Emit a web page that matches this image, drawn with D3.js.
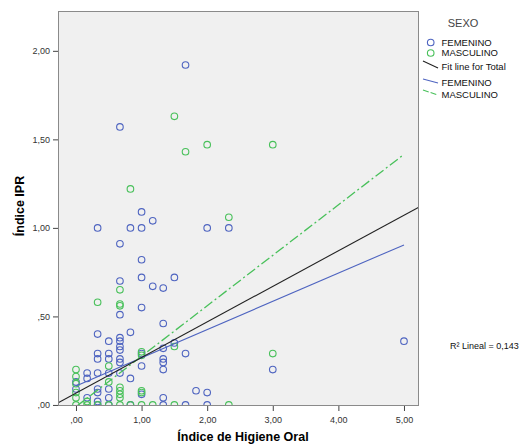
<!DOCTYPE html>
<html>
<head>
<meta charset="utf-8">
<script src="https://cdn.jsdelivr.net/npm/d3@7"></script>
<style>
  body { margin: 0; background: #fff; }
  text { font-family: "Liberation Sans", Arial, sans-serif; }
</style>
</head>
<body>
<div id="chart"></div>
<script>
// values: [Índice de Higiene Oral, Índice IPR]
var femenino = [
  [1.67, 1.92], [0.67, 1.57],
  [1.0, 1.09], [1.17, 1.04], [0.33, 1.0], [0.83, 1.0], [1.0, 1.0], [2.0, 1.0], [2.33, 1.0],
  [0.67, 0.91], [1.0, 0.82], [1.0, 0.72], [1.5, 0.72], [0.67, 0.70], [1.17, 0.67], [1.33, 0.66],
  [1.0, 0.55], [0.67, 0.51], [1.33, 0.46], [0.83, 0.41], [0.33, 0.40], [0.67, 0.38], [0.5, 0.36],
  [0.67, 0.36], [5.0, 0.36], [1.5, 0.35], [0.67, 0.33], [1.33, 0.32], [0.67, 0.31],
  [0.33, 0.29], [0.5, 0.29], [1.0, 0.29], [1.67, 0.29], [0.67, 0.26], [0.33, 0.26], [0.5, 0.26],
  [1.33, 0.26], [0.67, 0.24], [1.33, 0.24], [1.0, 0.22], [1.33, 0.2], [3.0, 0.2],
  [0.17, 0.18], [0.33, 0.18], [0.5, 0.18], [0.67, 0.18], [0.17, 0.15], [0.83, 0.15], [0.0, 0.13],
  [0.33, 0.09], [0.5, 0.09], [0.0, 0.09], [1.83, 0.08], [0.33, 0.07], [2.0, 0.07], [1.0, 0.06],
  [0.5, 0.04], [1.33, 0.04], [0.17, 0.04], [0.33, 0.02],
  [0.33, 0], [0.5, 0], [0.83, 0], [1.33, 0], [1.67, 0], [2.0, 0]
];
var masculino = [
  [1.5, 1.63], [2.0, 1.47], [3.0, 1.47], [1.67, 1.43], [0.83, 1.22], [2.33, 1.06],
  [0.67, 0.65], [0.33, 0.58], [0.67, 0.57], [0.67, 0.56],
  [1.5, 0.33], [1.0, 0.30], [3.0, 0.29], [1.0, 0.28], [0.5, 0.22], [0.0, 0.20], [0.0, 0.16],
  [0.5, 0.13], [0.0, 0.12], [0.67, 0.10], [0.67, 0.08], [1.0, 0.08], [0.0, 0.07], [1.0, 0.07],
  [0.67, 0.06], [0.0, 0.04], [0.67, 0.04], [0.17, 0.02],
  [0.0, 0], [0.17, 0], [0.33, 0], [0.5, 0], [0.67, 0], [0.83, 0], [1.0, 0], [1.17, 0], [1.5, 0], [2.33, 0]
];

// fit lines, endpoints
var totalLine = [[-0.28, 0.01], [5.24, 1.12]];
var femLine = [[0, 0.107], [5, 0.904]];
var mascLine = [[0, -0.01], [5, 1.415]];

var xTicks = [0, 1, 2, 3, 4, 5];
var xTickLabels = [",00", "1,00", "2,00", "3,00", "4,00", "5,00"];
var yTicks = [0, 0.5, 1, 1.5, 2];
var yTickLabels = [",00", ",50", "1,00", "1,50", "2,00"];

var width = 524, height = 445;
var blue = "#4e64c0", green = "#48c05a";

var svg = d3.select("#chart").append("svg")
    .attr("width", width)
    .attr("height", height);

var plotLeft = 58, plotRight = 419, plotTop = 11, plotBottom = 406;

var x = d3.scaleLinear().domain([-0.274, 5.229]).range([plotLeft, plotRight]);
var y = d3.scaleLinear().domain([-0.006, 2.225]).range([plotBottom, plotTop]);

// plot background
svg.append("rect")
    .attr("x", plotLeft).attr("y", plotTop)
    .attr("width", plotRight - plotLeft).attr("height", plotBottom - plotTop)
    .style("fill", "#f0f0f0");

svg.append("clipPath").attr("id", "plotclip")
  .append("rect")
    .attr("x", plotLeft).attr("y", plotTop)
    .attr("width", plotRight - plotLeft).attr("height", plotBottom - plotTop);

// axes
var xAxis = d3.axisBottom(x).tickValues(xTicks)
    .tickFormat(function (d, i) { return xTickLabels[i]; })
    .tickSize(5).tickSizeOuter(0);
var yAxis = d3.axisLeft(y).tickValues(yTicks)
    .tickFormat(function (d, i) { return yTickLabels[i]; })
    .tickSize(5).tickSizeOuter(0);

var gx = svg.append("g").attr("transform", "translate(0," + plotBottom + ")").call(xAxis);
var gy = svg.append("g").attr("transform", "translate(" + plotLeft + ",0)").call(yAxis);
[gx, gy].forEach(function (g) {
    g.select(".domain").remove();
    g.selectAll("line").style("stroke", "#444");
    g.selectAll("text")
        .style("font-family", "'Liberation Sans', Arial, sans-serif")
        .style("font-size", "9px")
        .style("fill", "#333");
});
gx.selectAll("text").attr("dy", "1.05em");

// points
var plot = svg.append("g").attr("clip-path", "url(#plotclip)");

plot.selectAll(".fem").data(femenino).enter().append("circle")
    .attr("class", "fem")
    .attr("cx", function (d) { return x(d[0]); })
    .attr("cy", function (d) { return y(d[1]); })
    .attr("r", 3.3)
    .style("fill", "none")
    .style("stroke", blue)
    .style("stroke-width", 1.1);

plot.selectAll(".masc").data(masculino).enter().append("circle")
    .attr("class", "masc")
    .attr("cx", function (d) { return x(d[0]); })
    .attr("cy", function (d) { return y(d[1]); })
    .attr("r", 3.3)
    .style("fill", "none")
    .style("stroke", green)
    .style("stroke-width", 1.1);

// fit lines
var line = d3.line().x(function (d) { return x(d[0]); }).y(function (d) { return y(d[1]); });

plot.append("path").datum(femLine)
    .attr("d", line)
    .style("fill", "none").style("stroke", blue).style("stroke-width", 1.1);

plot.append("path").datum(mascLine)
    .attr("d", line)
    .style("fill", "none").style("stroke", green).style("stroke-width", 1.3)
    .style("stroke-dasharray", "10,3,2,3");

plot.append("path").datum(totalLine)
    .attr("d", line)
    .style("fill", "none").style("stroke", "#222").style("stroke-width", 1.1);

// frame
svg.append("rect")
    .attr("x", plotLeft + 0.5).attr("y", plotTop + 0.5)
    .attr("width", plotRight - plotLeft - 1).attr("height", plotBottom - plotTop - 1)
    .style("fill", "none")
    .style("stroke", "#8a8a8a");

// axis titles
svg.append("text")
    .attr("x", 243).attr("y", 441)
    .attr("text-anchor", "middle")
    .style("font-size", "12.5px").style("font-weight", "bold")
    .text("Índice de Higiene Oral");

svg.append("text")
    .attr("transform", "translate(24,206) rotate(-90)")
    .attr("text-anchor", "middle")
    .style("font-size", "12.5px").style("font-weight", "bold")
    .text("Índice IPR");

// legend
var legend = svg.append("g");
legend.append("text")
    .attr("x", 463).attr("y", 27)
    .attr("text-anchor", "middle")
    .style("font-size", "11px").style("fill", "#444")
    .text("SEXO");

var markerItems = [["FEMENINO", blue, 42.5], ["MASCULINO", green, 53]];
markerItems.forEach(function (m) {
    legend.append("circle")
        .attr("cx", 430.7).attr("cy", m[2]).attr("r", 3.3)
        .style("fill", "none").style("stroke", m[1]).style("stroke-width", 1.1);
    legend.append("text")
        .attr("x", 441.5).attr("y", m[2] + 3.4)
        .style("font-size", "9.5px").style("fill", "#111")
        .text(m[0]);
});

var lineItems = [["Fit line for Total", "#222", 61, 68, 66.5, null],
                 ["FEMENINO", blue, 79, 83, 82.5, null],
                 ["MASCULINO", green, 90, 95, 94.5, "6,2"]];
lineItems.forEach(function (m) {
    legend.append("line")
        .attr("x1", 423).attr("y1", m[2]).attr("x2", 438).attr("y2", m[3])
        .style("stroke", m[1]).style("stroke-width", 1.1)
        .style("stroke-dasharray", m[5]);
    legend.append("text")
        .attr("x", 441.5).attr("y", m[4] + 3.4)
        .style("font-size", "9.5px").style("fill", "#111")
        .text(m[0]);
});

svg.append("text")
    .attr("x", 450).attr("y", 349)
    .style("font-size", "9px").style("fill", "#111")
    .text("R² Lineal = 0,143");
</script>
</body>
</html>
